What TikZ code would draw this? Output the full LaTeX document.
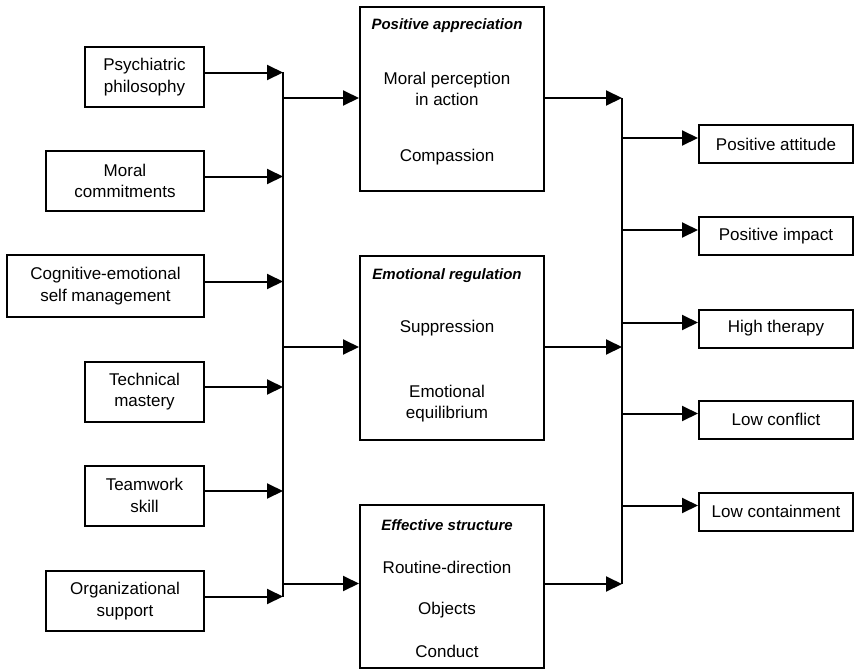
\documentclass[tikz,border=0pt]{standalone}
\usepackage{fontspec}
\setmainfont{Liberation Sans}
\usetikzlibrary{arrows.meta,calc}
\begin{document}
\begin{tikzpicture}[x=1pt,y=-1pt,
  line width=2pt,
  base/.style={draw, line width=2pt, inner sep=0pt, align=center,
    font=\fontsize{17}{21.5}\selectfont},
  lbox/.style={base, minimum height=60pt},
  rbox/.style={base, minimum width=154pt, minimum height=38pt},
  mbox/.style={draw, line width=2pt, inner sep=0pt, minimum width=184pt},
  txt/.style={inner sep=0pt, align=center, font=\fontsize{17}{21.5}\selectfont},
  ttl/.style={inner sep=0pt, font=\fontsize{15}{18}\selectfont\bfseries\itshape},
  arr/.style={-{Triangle[length=16pt,width=15pt]}, line width=2pt},
  bus/.style={line width=2pt}
]
\useasboundingbox (0,0) rectangle (855,670);

% left boxes
\node[lbox, minimum width=119pt] (psy) at (144.5,77) {Psychiatric\\philosophy};
\node[lbox, minimum width=158pt] (mor) at (125,181) {Moral\\commitments};
\node[lbox, minimum width=197pt, minimum height=62pt] (cog) at (105.5,286) {Cognitive-emotional\\self management};
\node[lbox, minimum width=119pt] (tec) at (144.5,391.5) {Technical\\mastery};
\node[lbox, minimum width=119pt] (tea) at (144.5,495.5) {Teamwork\\skill};
\node[lbox, minimum width=158pt] (org) at (125,601) {Organizational\\support};

% left bus
\coordinate (b1top) at (283,72);
\coordinate (b1bot) at (283,597);
\draw[bus] (b1top) -- (b1bot);
\foreach \n in {psy,mor,cog,tec,tea,org}{
  \draw[arr] ([yshift=4.5pt]\n.east) -- ([yshift=4.5pt]\n.east -| b1top);
}

% middle boxes
\node[mbox, minimum height=184pt] (m1) at (452,99) {};
\node[mbox, minimum height=184pt] (m2) at (452,348) {};
\node[mbox, minimum height=163pt] (m3) at (452,586) {};

\node[ttl] (m1t) at (447,26) {Positive appreciation};
\node[txt] (m1a) at (447,89) {Moral perception\\in action};
\node[txt] (m1b) at (447,157) {Compassion};

\node[ttl] (m2t) at (447,276) {Emotional regulation};
\node[txt] (m2a) at (447,328) {Suppression};
\node[txt] (m2b) at (447,403.5) {Emotional\\equilibrium};

\node[ttl] (m3t) at (447,525) {Effective structure};
\node[txt] (m3a) at (447,567) {Routine-direction};
\node[txt] (m3b) at (447,610) {Objects};
\node[txt] (m3c) at (447,651) {Conduct};

\draw[arr] ([yshift=1pt]m1.west -| b1top) -- ([yshift=1pt]m1.west);
\draw[arr] ([yshift=1pt]m2.west -| b1top) -- ([yshift=1pt]m2.west);
\draw[arr] ([yshift=2.5pt]m3.west -| b1top) -- ([yshift=2.5pt]m3.west);

% right bus
\coordinate (b2top) at (622,98);
\coordinate (b2bot) at (622,584);
\draw[bus] (b2top) -- (b2bot);
\draw[arr] ([yshift=1pt]m1.east) -- ([yshift=1pt]m1.east -| b2top);
\draw[arr] ([yshift=1pt]m2.east) -- ([yshift=1pt]m2.east -| b2top);
\draw[arr] ([yshift=2pt]m3.east) -- ([yshift=2pt]m3.east -| b2top);

% right boxes
\node[rbox] (pa) at (776,144) {Positive attitude};
\node[rbox] (pi) at (776,236) {Positive impact};
\node[rbox] (ht) at (776,328.5) {High therapy};
\node[rbox] (lc) at (776,419.5) {Low conflict};
\node[rbox] (lco) at (776,511.5) {Low containment};

\foreach \n in {pa,pi,ht,lc,lco}{
  \draw[arr] ([yshift=6pt]\n.west -| b2top) -- ([yshift=6pt]\n.west);
}
\end{tikzpicture}
\end{document}
